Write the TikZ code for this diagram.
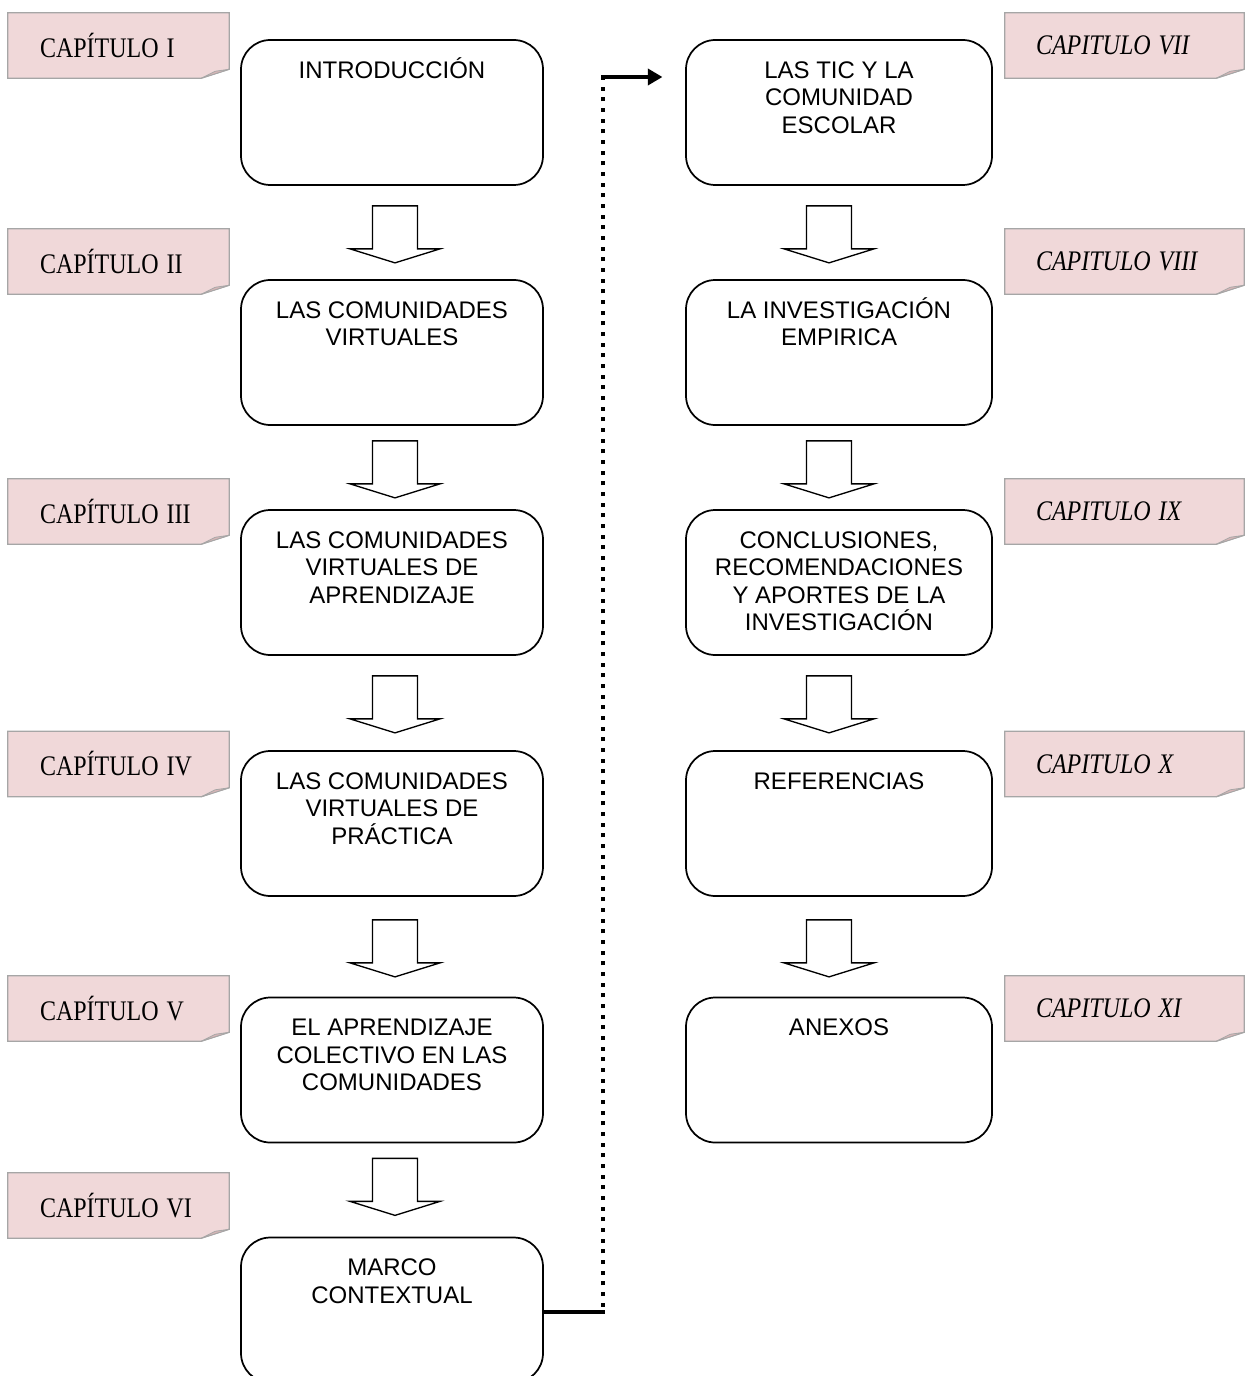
\documentclass[tikz,border=0pt]{standalone}
\usepackage{graphicx}
\usepackage{fontspec}
\setmainfont{Liberation Serif}
\newfontfamily\boxfont{Liberation Sans}
\usetikzlibrary{arrows.meta,calc}
\pgfdeclarelayer{background}
\pgfsetlayers{background,main}
\definecolor{chapfill}{HTML}{F0D8D9}
\definecolor{chapline}{HTML}{A6A6A6}
\definecolor{foldfill}{HTML}{D8B6B7}
\newcommand\mystrut{\rule{0pt}{18pt}}
\newcommand\tall[1]{\scalebox{1}[1.18]{#1}}
\newcommand\foldit[1]{%
  \begin{pgfonlayer}{background}
  \filldraw[fill=chapfill, draw=chapline, line width=0.9pt]
    (#1.north west) -- (#1.north east) -- ([yshift=6.75pt]#1.south east)
    -- ([xshift=-21pt]#1.south east) -- (#1.south west) -- cycle;
  \filldraw[fill=foldfill, draw=chapline, line width=0.6pt]
    ([yshift=6.75pt]#1.south east) -- ([xshift=-10.5pt,yshift=5.25pt]#1.south east)
    -- ([xshift=-21pt]#1.south east) -- cycle;
  \end{pgfonlayer}}
\newcommand\barrow[3]{%
  \draw[blockarrow] ($(#1.south)+(#2-22.5,#3)$) -- ++(45,0) -- ++(0,43) -- ++(22.5,0)
    -- ++(-45,14) -- ++(-45,-14) -- ++(22.5,0) -- cycle;}
\tikzset{
  chapL/.style={rectangle, inner sep=0pt, minimum height=48.75pt, text width=165.75pt,
    align=left, font=\fontsize{18}{21}\selectfont},
  chapR/.style={rectangle, inner sep=0pt, minimum height=48.75pt, text width=179.25pt,
    align=left, font=\fontsize{18}{21}\selectfont\itshape},
  stageL/.style={rectangle, rounded corners=22pt, draw, line width=1.3pt,
    minimum width=226.5pt, minimum height=108.75pt, inner sep=0pt},
  stageR/.style={stageL, minimum width=229.5pt},
  stagetext/.style={anchor=north, inner sep=0pt, align=center,
    font=\boxfont\fontsize{18}{20.6}\selectfont},
  blockarrow/.style={draw, fill=white, line width=1pt, line join=miter},
}
\begin{document}
\begin{tikzpicture}[x=0.75pt,y=-0.75pt]
\useasboundingbox (0,0) rectangle (1252,1376);
\clip (0,0) rectangle (1252,1376);

% chapter labels
\node[chapL] (l1) at (118.5,45.5) {\hspace*{24pt}\tall{CAPÍTULO I}};
\node[chapL] (l2) at (118.5,261.5) {\hspace*{24pt}\tall{CAPÍTULO II}};
\node[chapL] (l3) at (118.5,511.5) {\hspace*{24pt}\tall{CAPÍTULO III}};
\node[chapL] (l4) at (118.5,764) {\hspace*{24pt}\tall{CAPÍTULO IV}};
\node[chapL] (l5) at (118.5,1008.5) {\hspace*{24pt}\tall{CAPÍTULO V}};
\node[chapL] (l6) at (118.5,1205.5) {\hspace*{24pt}\tall{CAPÍTULO VI}};
\node[chapR] (r7) at (1124.5,45.5) {\hspace*{23.25pt}\tall{CAPITULO VII}};
\node[chapR] (r8) at (1124.5,261.5) {\hspace*{23.25pt}\tall{CAPITULO VIII}};
\node[chapR] (r9) at (1124.5,511.5) {\hspace*{23.25pt}\tall{CAPITULO IX}};
\node[chapR] (r10) at (1124.5,764) {\hspace*{23.25pt}\tall{CAPITULO X}};
\node[chapR] (r11) at (1124.5,1008.5) {\hspace*{23.25pt}\tall{CAPITULO XI}};
\foreach \n in {l1,l2,l3,l4,l5,l6,r7,r8,r9,r10,r11} {\foldit{\n}}

% stage boxes
\node[stageL] (b1) at (392,112.5) {};
\node[stageL] (b2) at (392,352.5) {};
\node[stageL] (b3) at (392,582.5) {};
\node[stageL] (b4) at (392,823.5) {};
\node[stageL] (b5) at (392,1070) {};
\node[stageL] (b6) at (392,1310) {};
\node[stageR] (b7) at (839,112.5) {};
\node[stageR] (b8) at (839,352.5) {};
\node[stageR] (b9) at (839,582.5) {};
\node[stageR] (b10) at (839,823.5) {};
\node[stageR] (b11) at (839,1070) {};

\node[stagetext] (t1) at ([yshift=-11.25pt]b1.north) {\mystrut INTRODUCCIÓN};
\node[stagetext] (t2) at ([yshift=-11.25pt]b2.north) {\mystrut LAS COMUNIDADES\\VIRTUALES};
\node[stagetext] (t3) at ([yshift=-11.25pt]b3.north) {\mystrut LAS COMUNIDADES\\VIRTUALES DE\\APRENDIZAJE};
\node[stagetext] (t4) at ([yshift=-11.25pt]b4.north) {\mystrut LAS COMUNIDADES\\VIRTUALES DE\\PRÁCTICA};
\node[stagetext] (t5) at ([yshift=-11.25pt]b5.north) {\mystrut EL APRENDIZAJE\\COLECTIVO EN LAS\\COMUNIDADES};
\node[stagetext] (t6) at ([yshift=-11.25pt]b6.north) {\mystrut MARCO\\CONTEXTUAL};
\node[stagetext] (t7) at ([yshift=-11.25pt]b7.north) {\mystrut LAS TIC Y LA\\COMUNIDAD\\ESCOLAR};
\node[stagetext] (t8) at ([yshift=-11.25pt]b8.north) {\mystrut LA INVESTIGACIÓN\\EMPIRICA};
\node[stagetext] (t9) at ([yshift=-11.25pt]b9.north) {\mystrut CONCLUSIONES,\\RECOMENDACIONES\\Y APORTES DE LA\\INVESTIGACIÓN};
\node[stagetext] (t10) at ([yshift=-11.25pt]b10.north) {\mystrut REFERENCIAS};
\node[stagetext] (t11) at ([yshift=-11.25pt]b11.north) {\mystrut ANEXOS};

% block arrows
\barrow{b1}{3}{20}
\barrow{b2}{3}{15}
\barrow{b3}{3}{20}
\barrow{b4}{3}{23}
\barrow{b5}{3}{15}
\barrow{b7}{-10}{20}
\barrow{b8}{-10}{15}
\barrow{b9}{-10}{20}
\barrow{b10}{-10}{23}

% connector from MARCO CONTEXTUAL to LAS TIC
\coordinate (c1) at (603,1312);
\coordinate (c2) at (603,77);
\draw[line width=3.5pt] (c1 -| b6.east) -- ([xshift=1.5pt]c1);
\draw[line width=3pt, dash pattern=on 3pt off 5pt] ([yshift=4pt]c1) -- (c2);
\draw[line width=3.5pt, shorten >=17pt, -{Triangle[length=11pt,width=12pt]}] ([xshift=-1.5pt]c2) -- (b7.west |- c2);
\end{tikzpicture}
\end{document}
